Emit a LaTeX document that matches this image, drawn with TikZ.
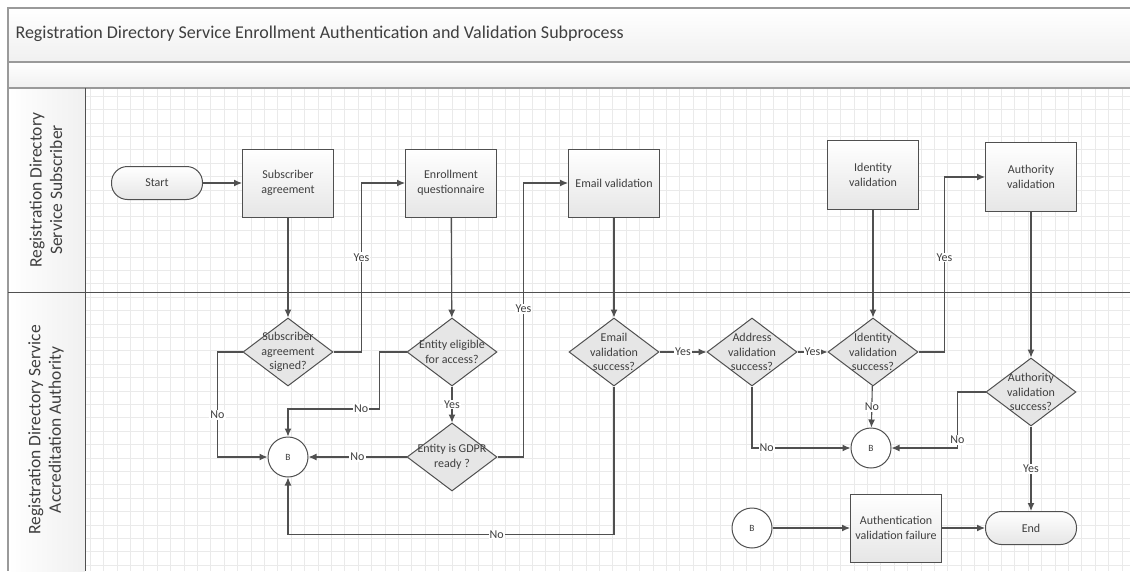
\documentclass[tikz,border=0pt]{standalone}
\usepackage{fontspec}
\setmainfont{Carlito}
\usetikzlibrary{positioning, arrows.meta, shapes.geometric, calc}
\definecolor{lineGray}{HTML}{505050}
\definecolor{frameGray}{HTML}{9A9A9A}
\definecolor{gridGray}{HTML}{EAEAEA}
\definecolor{bandGray}{HTML}{F0F0F0}
\definecolor{boxGray}{HTML}{E6E6E6}
\definecolor{txtGray}{HTML}{3F3F3F}
\tikzset{
>={Latex[length=8pt,width=7pt]}, % filled arrow heads
every node/.style={text=txtGray, font=\fontsize{12}{14.5}\selectfont}, % text of every node
flow/.style={->, draw=lineGray, line width=1.1pt}, % connectors between the shapes
process/.style={draw=lineGray, line width=1pt, top color=white, bottom color=boxGray, minimum width=91pt, minimum height=68pt, align=center},
terminal/.style={draw=lineGray, line width=1pt, rounded corners=16pt, top color=white, bottom color=boxGray, minimum width=91pt, minimum height=33pt},
decision/.style={diamond, draw=lineGray, line width=1pt, fill=boxGray, minimum width=90pt, minimum height=68pt, inner sep=0pt},
dtext/.style={align=center, inner sep=0pt}, % text inside a decision
refcircle/.style={circle, draw=lineGray, line width=1pt, fill=white, minimum size=40pt, inner sep=0pt, font=\fontsize{9.5}{10}\selectfont},
lbl/.style={fill=white, inner sep=1pt, font=\fontsize{12}{13}\selectfont}, % Yes / No on the connectors
lanetext/.style={rotate=90, align=center, font=\fontsize{17.5}{20.5}\selectfont},
gridline/.style={draw=gridGray, line width=0.5pt},
}
\begin{document}
\begin{tikzpicture}[x=1pt, y=-1pt]
    \useasboundingbox (0,0) rectangle (1130,571);
    % bands, lanes and grid
    \fill[white] (0,0) rectangle (1130,571);
    \shade[top color=white, bottom color=bandGray] (8,8) rectangle (1130,62);
    \shade[top color=white, bottom color=bandGray] (8,62) rectangle (1130,88);
    \shade[left color=white, right color=bandGray] (8,88) rectangle (85,571);
    \foreach \gx in {90,103.4,...,1130} \draw[gridline] (\gx,88) -- (\gx,571);
    \foreach \gy in {96,109.4,...,571} \draw[gridline] (86,\gy) -- (1130,\gy);
    \draw[frameGray, line width=1.5pt] (1130,8) -- (8,8) -- (8,571);
    \draw[frameGray, line width=1.5pt] (8,62) -- (1130,62);
    \draw[frameGray, line width=1.5pt] (8,88) -- (1130,88);
    \draw[lineGray, line width=1pt] (8,292) -- (1130,292);
    \draw[lineGray, line width=1pt] (85,88) -- (85,571);

    \node[anchor=west, font=\fontsize{18}{21}\selectfont] (title) at (12,34) {Registration Directory Service Enrollment Authentication and Validation Subprocess};
    \node[lanetext] (lane1) at (46,190) {Registration Directory\\Service Subscriber};
    \node[lanetext] (lane2) at (46,430) {Registration Directory Service\\Accreditation Authority};

    % subscriber lane
    \node[terminal] (start) at (157,183) {Start};
    \node[process] (subagr) at (288,183) {Subscriber\\agreement};
    \node[process] (enrq) at (451,183) {Enrollment\\questionnaire};
    \node[process] (emailv) at (614,183) {Email validation};
    \node[process, minimum height=69pt] (identv) at (873,175) {Identity\\validation};
    \node[process, minimum height=69pt] (authv) at (1031,177) {Authority\\validation};

    % authority lane
    \node[decision, label={[dtext]center:{Subscriber\\agreement\\signed?}}] (subok) at (288,352) {};
    \node[decision, label={[dtext]center:{Entity eligible\\for access?}}] (eligok) at (452,352) {};
    \node[decision, label={[dtext]center:{Entity is GDPR\\ready ?}}] (gdprok) at (452,457) {};
    \node[decision, label={[dtext]center:{Email\\validation\\success?}}] (emailok) at (614,352) {};
    \node[decision, label={[dtext]center:{Address\\validation\\success?}}] (addrok) at (752,352) {};
    \node[decision, label={[dtext]center:{Identity\\validation\\success?}}] (identok) at (873,352) {};
    \node[decision, label={[dtext]center:{Authority\\validation\\success?}}] (authok) at (1031,392) {};
    \node[refcircle] (b1) at (288,457) {B};
    \node[refcircle] (b2) at (871,448) {B};
    \node[refcircle] (b3) at (752,528) {B};
    \node[process] (fail) at (896,528) {Authentication\\validation failure};
    \node[terminal] (endt) at (1031,528) {End};

    \draw[flow] (start) -- (subagr);
    \draw[flow] (subagr) -- (subok);
    \draw[flow] (subok.west) -- ++(-25,0) |- (b1.west) node[lbl, pos=0.3]{No};
    \draw[flow] (subok.east) -- ++(28,0) |- (enrq.west) node[lbl, pos=0.28]{Yes};
    \draw[flow] (enrq) -- (eligok);
    \draw[flow] (eligok.west) -- ++(-27,0) -- ++(0,57) -| (b1.north) node[lbl, pos=0.1]{No};
    \draw[flow] (eligok) -- node[lbl]{Yes} (gdprok);
    \draw[flow] (gdprok.west) -- node[lbl, pos=0.5]{No} (b1.east);
    \draw[flow] (gdprok.east) -- ++(26,0) |- (emailv.west) node[lbl, pos=0.27]{Yes};
    \draw[flow] (emailv) -- (emailok);
    \draw[flow] (emailok.south) -- ++(0,148) -| (b1.south) node[lbl, pos=0.18]{No};
    \draw[flow] (emailok.east) -- node[lbl]{Yes} (addrok.west);
    \draw[flow] (addrok.east) -- node[lbl]{Yes} (identok.west);
    \draw[flow] (addrok.south) |- (b2.west) node[lbl, pos=0.575]{No};
    \draw[flow] (identv) -- (identok);
    \draw[flow] (identok) -- node[lbl]{No} (b2);
    \draw[flow] (identok.east) -- ++(26,0) |- (authv.west) node[lbl, pos=0.27]{Yes};
    \draw[flow] (authv) -- (authok);
    \draw[flow] (authok.west) -- ++(-28,0) |- (b2.east) node[lbl, pos=0.43]{No};
    \draw[flow] (authok) -- node[lbl]{Yes} (endt);
    \draw[flow] (b3) -- (fail);
    \draw[flow] (fail) -- (endt);
\end{tikzpicture}
\end{document}
